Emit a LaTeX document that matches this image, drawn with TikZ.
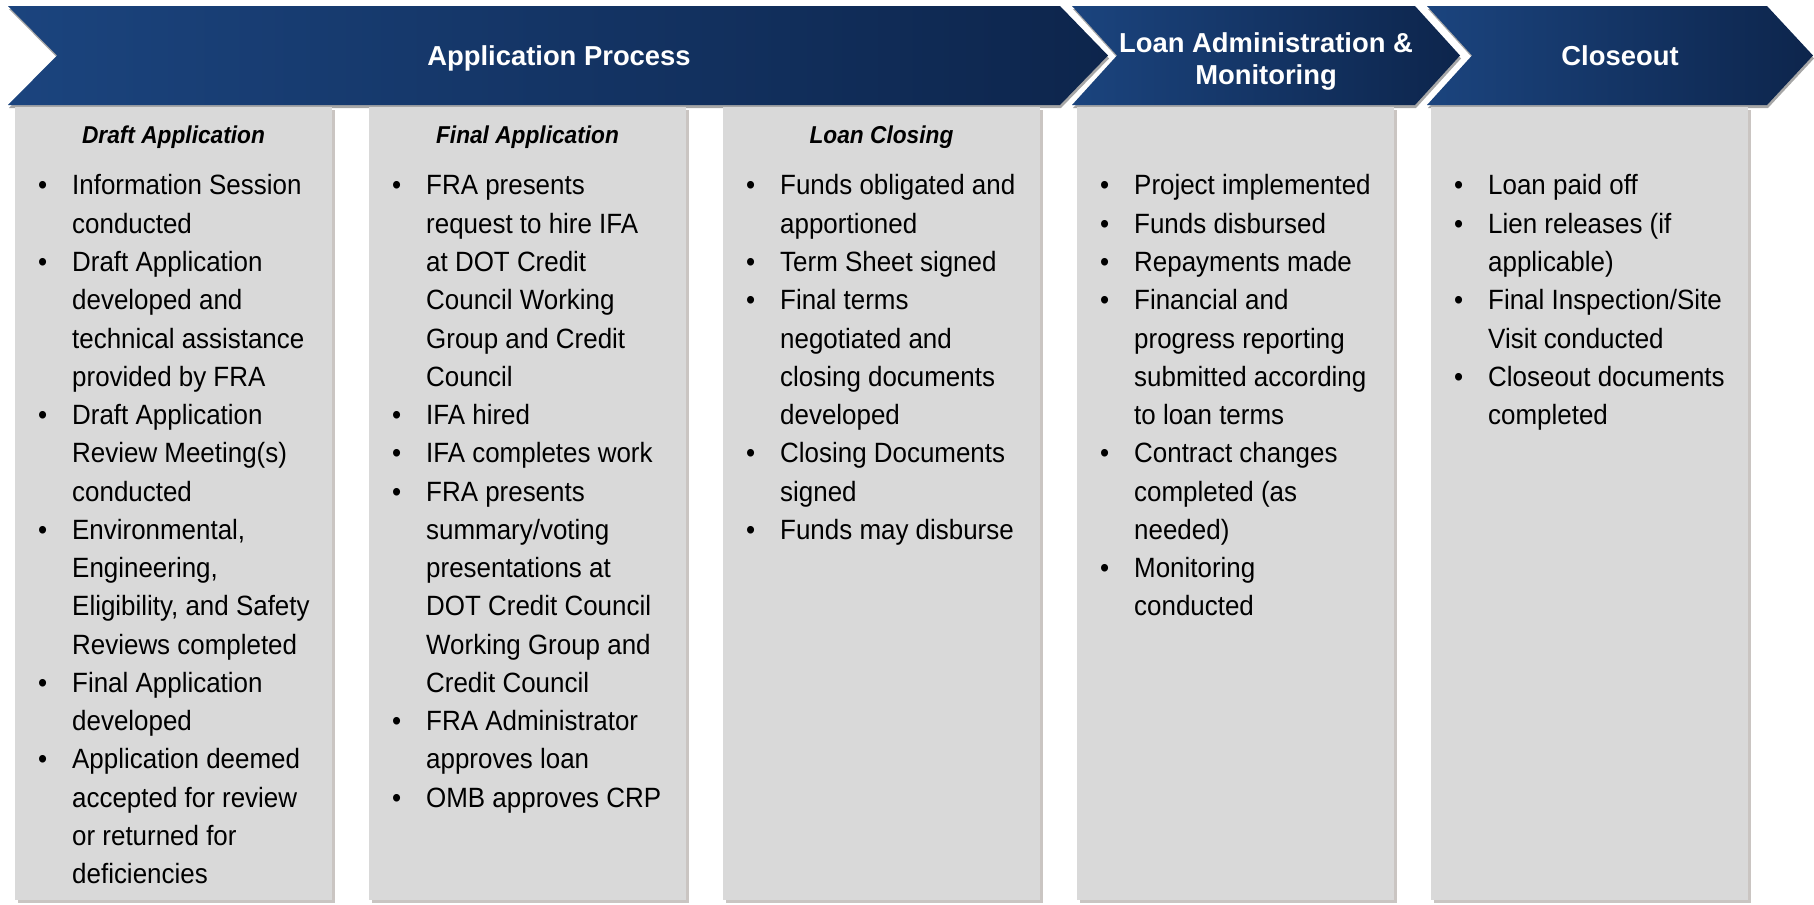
\documentclass[tikz,border=0pt]{standalone}
\usepackage{fontspec}
\setmainfont{Liberation Sans}[FakeStretch=0.93]
\newfontfamily\titlefont{Liberation Sans}
\usepackage{tikz}
\usetikzlibrary{shadows, positioning}
\definecolor{chevlight}{RGB}{27,68,126}
\definecolor{chevdark}{RGB}{13,37,76}
\definecolor{boxgray}{RGB}{217,217,217}
\definecolor{shadowgray}{RGB}{150,140,134}
\newcommand{\listfont}{\fontsize{28}{38.4}\selectfont}
\newcommand{\bul}{\textbullet}

\begin{document}
\begin{tikzpicture}[x=1bp,y=-1bp,
    chevron/.style={left color=chevlight, right color=chevdark,
        drop shadow={shadow xshift=1bp, shadow yshift=-3bp, opacity=0.35, fill=black}},
    title/.style={text=white, font=\titlefont\bfseries\fontsize{27.5}{33}\selectfont,
        align=center, inner sep=0pt},
    colbox/.style={fill=boxgray, minimum width=317bp, minimum height=793bp,
        anchor=north west, inner sep=0pt,
        drop shadow={shadow xshift=3bp, shadow yshift=-3bp, opacity=0.5, fill=shadowgray}},
    colhead/.style={font=\bfseries\itshape\fontsize{24.5}{30}\selectfont,
        anchor=base, inner sep=0pt},
    bullets/.style={anchor=north west, inner sep=0pt, font=\listfont}]

    \useasboundingbox (0,0) rectangle (1814,905);

    % phase chevrons
    \path[chevron] (8,6) -- (1060,6) -- (1108,55.5) -- (1060,105) -- (8,105) -- (57,55.5) -- cycle;
    \path[chevron] (1072,6) -- (1415,6) -- (1460,55.5) -- (1415,105) -- (1072,105) -- (1117,55.5) -- cycle;
    \path[chevron] (1427,6) -- (1767,6) -- (1813,55.5) -- (1767,105) -- (1427,105) -- (1472,55.5) -- cycle;

    \node[title, anchor=base] (application) at (559,65) {Application Process};
    \node[title] (administration) at (1266,61.5) {Loan Administration \&\\Monitoring};
    \node[title, anchor=base] (closeout) at (1620,65) {Closeout};

    % step columns
    \node[colbox] (draft) at (15,107) {};
    \node[colbox] (final) at (369,107) {};
    \node[colbox] (closing) at (723,107) {};
    \node[colbox] (monitor) at (1077,107) {};
    \node[colbox] (close) at (1431,107) {};

    \node[colhead] (draft_h) at (173.5,143) {Draft Application};
    \node[colhead] (final_h) at (527.5,143) {Final Application};
    \node[colhead] (closing_h) at (881.5,143) {Loan Closing};

    \node[bullets] (draft_l) at (38,168) {%
        \begin{tabular}{@{}p{34bp}@{}l@{}}
        \bul & Information Session\\
             & conducted\\
        \bul & Draft Application\\
             & developed and\\
             & technical assistance\\
             & provided by FRA\\
        \bul & Draft Application\\
             & Review Meeting(s)\\
             & conducted\\
        \bul & Environmental,\\
             & Engineering,\\
             & Eligibility, and Safety\\
             & Reviews completed\\
        \bul & Final Application\\
             & developed\\
        \bul & Application deemed\\
             & accepted for review\\
             & or returned for\\
             & deficiencies
        \end{tabular}};

    \node[bullets] (final_l) at (392,168) {%
        \begin{tabular}{@{}p{34bp}@{}l@{}}
        \bul & FRA presents\\
             & request to hire IFA\\
             & at DOT Credit\\
             & Council Working\\
             & Group and Credit\\
             & Council\\
        \bul & IFA hired\\
        \bul & IFA completes work\\
        \bul & FRA presents\\
             & summary/voting\\
             & presentations at\\
             & DOT Credit Council\\
             & Working Group and\\
             & Credit Council\\
        \bul & FRA Administrator\\
             & approves loan\\
        \bul & OMB approves CRP
        \end{tabular}};

    \node[bullets] (closing_l) at (746,168) {%
        \begin{tabular}{@{}p{34bp}@{}l@{}}
        \bul & Funds obligated and\\
             & apportioned\\
        \bul & Term Sheet signed\\
        \bul & Final terms\\
             & negotiated and\\
             & closing documents\\
             & developed\\
        \bul & Closing Documents\\
             & signed\\
        \bul & Funds may disburse
        \end{tabular}};

    \node[bullets] (monitor_l) at (1100,168) {%
        \begin{tabular}{@{}p{34bp}@{}l@{}}
        \bul & Project implemented\\
        \bul & Funds disbursed\\
        \bul & Repayments made\\
        \bul & Financial and\\
             & progress reporting\\
             & submitted according\\
             & to loan terms\\
        \bul & Contract changes\\
             & completed (as\\
             & needed)\\
        \bul & Monitoring\\
             & conducted
        \end{tabular}};

    \node[bullets] (close_l) at (1454,168) {%
        \begin{tabular}{@{}p{34bp}@{}l@{}}
        \bul & Loan paid off\\
        \bul & Lien releases (if\\
             & applicable)\\
        \bul & Final Inspection/Site\\
             & Visit conducted\\
        \bul & Closeout documents\\
             & completed
        \end{tabular}};

\end{tikzpicture}
\end{document}
